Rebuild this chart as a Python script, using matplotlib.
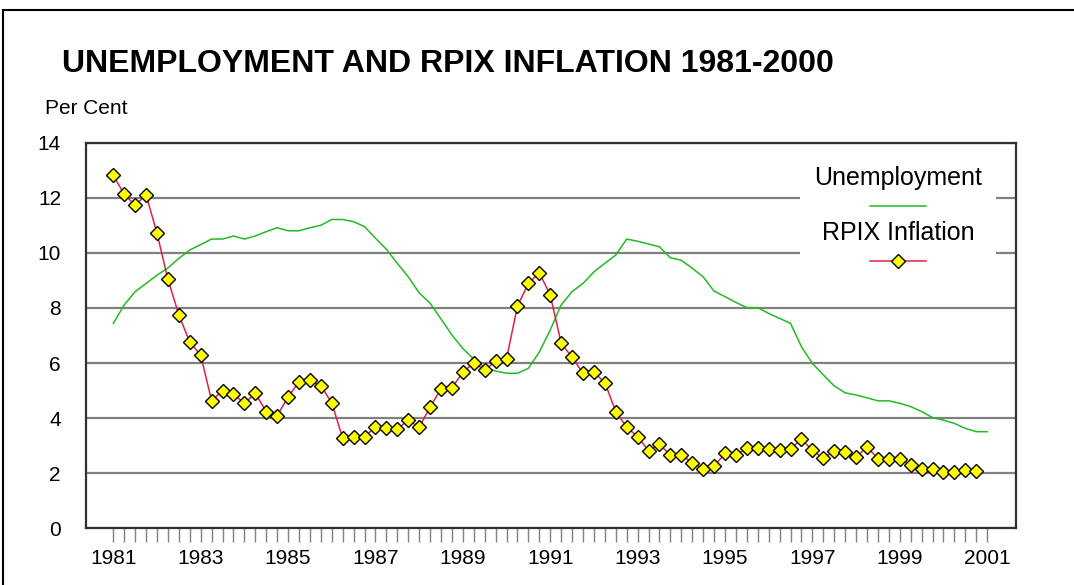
import numpy as np
import matplotlib
matplotlib.use("Agg")
import matplotlib.pyplot as plt
from matplotlib.lines import Line2D
from matplotlib.patches import Rectangle

plt.rcParams['font.family'] = ['Liberation Sans', 'DejaVu Sans']

# quarterly RPIX inflation, 1981 Q1 - 2000 Q4
rpix = [12.81, 12.13, 11.72, 12.11, 10.71, 9.04, 7.75, 6.76, 6.29, 4.63,
        5.00, 4.87, 4.54, 4.90, 4.24, 4.09, 4.77, 5.32, 5.38, 5.17,
        4.56, 3.27, 3.31, 3.33, 3.67, 3.65, 3.61, 3.93, 3.67, 4.40,
        5.07, 5.11, 5.66, 6.01, 5.75, 6.07, 6.16, 8.07, 8.89, 9.28,
        8.47, 6.72, 6.21, 5.63, 5.67, 5.29, 4.24, 3.67, 3.33, 2.82,
        3.05, 2.66, 2.66, 2.38, 2.17, 2.26, 2.72, 2.67, 2.91, 2.91,
        2.87, 2.84, 2.89, 3.23, 2.84, 2.54, 2.82, 2.77, 2.58, 2.96,
        2.53, 2.53, 2.53, 2.30, 2.14, 2.14, 2.06, 2.04, 2.12, 2.09]

# unemployment rate, quarterly 1981 Q1 - 2001 Q1
unemp = [7.44, 8.11, 8.59, 8.89, 9.19, 9.45, 9.80, 10.10, 10.30, 10.50,
         10.50, 10.61, 10.50, 10.61, 10.77, 10.91, 10.80, 10.80, 10.91, 11.00,
         11.21, 11.21, 11.13, 10.95, 10.53, 10.13, 9.62, 9.13, 8.55, 8.17,
         7.60, 7.02, 6.53, 6.14, 5.85, 5.71, 5.63, 5.63, 5.81, 6.40,
         7.20, 8.11, 8.59, 8.89, 9.31, 9.62, 9.92, 10.50, 10.42, 10.32,
         10.22, 9.82, 9.73, 9.44, 9.13, 8.61, 8.41, 8.20, 8.01, 8.01,
         7.80, 7.62, 7.44, 6.59, 5.99, 5.57, 5.17, 4.92, 4.84, 4.74,
         4.63, 4.63, 4.54, 4.42, 4.24, 4.02, 3.93, 3.81, 3.63, 3.51,
         3.51]

rpix_x = 1981 + np.arange(len(rpix)) / 4
unemp_x = 1981 + np.arange(len(unemp)) / 4

year_labels = list(range(1981, 2002, 2))
y_ticks = [0, 2, 4, 6, 8, 10, 12, 14]

green = '#22BB22'
red = '#E0204A'

fig = plt.figure(figsize=(10.74, 5.85), dpi=100)
ax = fig.add_axes([86 / 1074, 1 - 528.4 / 585, 930 / 1074, 385.8 / 585])

ax.plot(unemp_x, unemp, color=green, lw=1.1, zorder=3)
ax.plot(rpix_x, rpix, color=red, lw=1.1, marker='D', markersize=7.3,
        markerfacecolor='#FFFF00', markeredgecolor='black', markeredgewidth=1.0,
        zorder=4)

ax.set_xlim(1980.375, 2001.66)
ax.set_ylim(0, 14)
ax.set_yticks(y_ticks)
ax.grid(axis='y', color='#808080', lw=1.6)
ax.set_axisbelow(True)

ax.set_xticks(year_labels)
ax.set_xticks(1981 + np.arange(81) / 4, minor=True)
ax.tick_params(axis='x', which='both', direction='out', length=10, width=1,
               color='#808080', labelsize=15, pad=5)
ax.tick_params(axis='y', length=0, labelsize=15, pad=18)
for s in ax.spines.values():
    s.set_color('#303030')
    s.set_linewidth(1.6)

# legend, drawn by hand (text above sample line, like the original)
ax.add_patch(Rectangle((0.768, 0.62), 0.21, 0.36, transform=ax.transAxes,
                       facecolor='white', edgecolor='none', zorder=2))
ax.text(0.873, 0.907, 'Unemployment', transform=ax.transAxes, ha='center',
        va='center', fontsize=18, zorder=5)
ax.add_line(Line2D([0.843, 0.903], [0.836, 0.836], transform=ax.transAxes,
                   color=green, lw=1.1, zorder=5))
ax.text(0.873, 0.765, 'RPIX Inflation', transform=ax.transAxes, ha='center',
        va='center', fontsize=18, zorder=5)
ax.add_line(Line2D([0.843, 0.903], [0.693, 0.693], transform=ax.transAxes,
                   color=red, lw=1.1, zorder=5))
ax.add_line(Line2D([0.873], [0.693], transform=ax.transAxes, marker='D',
                   markersize=7.3, markerfacecolor='#FFFF00',
                   markeredgecolor='black', markeredgewidth=1.0, zorder=6))

fig.text(62 / 1074, 1 - 72 / 585, 'UNEMPLOYMENT AND RPIX INFLATION 1981-2000',
         fontsize=23, fontweight='bold', va='baseline', ha='left')
fig.text(45 / 1074, 1 - 114 / 585, 'Per Cent', fontsize=15, va='baseline',
         ha='left')

# outer frame (runs off the right and bottom of the picture)
fig.add_artist(Rectangle((3 / 1074, -0.1), 1.2, 1.1 - 10 / 585,
                         transform=fig.transFigure, fill=False,
                         edgecolor='black', lw=1.5))

fig.savefig('out.png', dpi=100)
